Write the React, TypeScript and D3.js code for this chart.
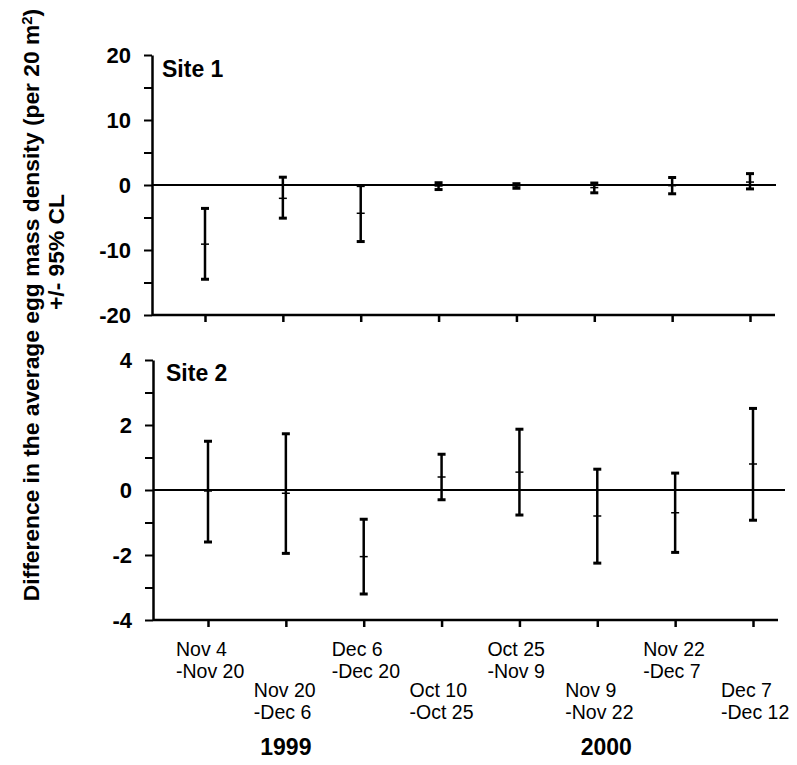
import React, { useEffect, useRef } from "react";
import * as d3 from "d3";

const startDates = ["Nov 4", "Nov 20", "Dec 6", "Oct 10", "Oct 25", "Nov 9", "Nov 22", "Dec 7"];
const endDates = ["-Nov 20", "-Dec 6", "-Dec 20", "-Oct 25", "-Nov 9", "-Nov 22", "-Dec 7", "-Dec 12"];
const categories = startDates.map((s, i) => s + " " + endDates[i]);

const site1Mean = [-9.1, -2.05, -4.35, -0.15, -0.15, -0.4, -0.1, 0.45];
const site1Lower = [-14.5, -5.1, -8.7, -0.7, -0.5, -1.2, -1.35, -0.6];
const site1Upper = [-3.6, 1.2, -0.1, 0.35, 0.2, 0.3, 1.15, 1.75];

const site2Mean = [-0.03, -0.1, -2.05, 0.4, 0.55, -0.8, -0.7, 0.8];
const site2Lower = [-1.6, -1.95, -3.2, -0.3, -0.77, -2.25, -1.92, -0.93];
const site2Upper = [1.5, 1.73, -0.9, 1.1, 1.87, 0.64, 0.52, 2.51];

const site1Ticks = [-20, -15, -10, -5, 0, 5, 10, 15, 20];
const site2Ticks = [-4, -3, -2, -1, 0, 1, 2, 3, 4];
const years = ["1999", "2000"];
const siteNames = ["Site 1", "Site 2"];

const FONT = "'Liberation Sans', Arial, Helvetica, sans-serif";

export default function App() {
  const ref = useRef<SVGSVGElement | null>(null);

  useEffect(() => {
    const svg = d3.select(ref.current);
    svg.selectAll("*").remove();

    const panels = [
      {
        name: siteNames[0],
        mean: site1Mean, lo: site1Lower, hi: site1Upper,
        ticks: site1Ticks, labelEvery: 10,
        y: d3.scaleLinear().domain([-20, 20]).range([315, 55]),
        x: d3.scalePoint<string>().domain(categories).range([205, 750]),
        axisX: 152, xEnd: 775, zeroEnd: 776,
        siteX: 162, siteY: 77,
      },
      {
        name: siteNames[1],
        mean: site2Mean, lo: site2Lower, hi: site2Upper,
        ticks: site2Ticks, labelEvery: 2,
        y: d3.scaleLinear().domain([-4, 4]).range([620, 360]),
        x: d3.scalePoint<string>().domain(categories).range([208, 753]),
        axisX: 153, xEnd: 778, zeroEnd: 785,
        siteX: 166, siteY: 381,
      },
    ];

    panels.forEach((p) => {
      const g = svg.append("g");
      const y0 = p.y.range()[0];
      const ya = d3
        .axisLeft(p.y)
        .tickValues(p.ticks)
        .tickSize(8)
        .tickSizeOuter(0)
        .tickPadding(13)
        .tickFormat((d: any) => (Math.abs(d % p.labelEvery) < 1e-9 ? String(d) : ""));
      const yg = g.append("g").attr("transform", `translate(${p.axisX},0)`).call(ya);
      yg.select(".domain").attr("stroke", "#000").attr("stroke-width", 2.5);
      yg.selectAll(".tick line").attr("stroke", "#000").attr("stroke-width", 2);
      yg.selectAll(".tick text")
        .attr("fill", "#000")
        .style("font-family", FONT)
        .style("font-size", "22px")
        .style("font-weight", "bold");

      g.append("line")
        .attr("x1", p.axisX).attr("x2", p.xEnd)
        .attr("y1", y0).attr("y2", y0)
        .attr("stroke", "#000").attr("stroke-width", 2.5);
      const xa = d3.axisBottom(p.x).tickSize(7).tickSizeOuter(0).tickFormat(() => "");
      const xg = g.append("g").attr("transform", `translate(0,${y0})`).call(xa);
      xg.select(".domain").remove();
      xg.selectAll(".tick line").attr("stroke", "#000").attr("stroke-width", 2.5);

      g.append("line")
        .attr("x1", p.axisX).attr("x2", p.zeroEnd)
        .attr("y1", p.y(0)).attr("y2", p.y(0))
        .attr("stroke", "#000").attr("stroke-width", 2);

      const bars = g.selectAll(".bar").data(categories).enter().append("g");
      bars.append("line")
        .attr("x1", (c) => p.x(c)!).attr("x2", (c) => p.x(c)!)
        .attr("y1", (_c, i) => p.y(p.lo[i])).attr("y2", (_c, i) => p.y(p.hi[i]))
        .attr("stroke", "#000").attr("stroke-width", 2.5);
      [p.lo, p.hi].forEach((arr) => {
        bars.append("line")
          .attr("x1", (c) => p.x(c)! - 4).attr("x2", (c) => p.x(c)! + 4)
          .attr("y1", (_c, i) => p.y(arr[i])).attr("y2", (_c, i) => p.y(arr[i]))
          .attr("stroke", "#000").attr("stroke-width", 3);
      });
      bars.append("line")
        .attr("x1", (c) => p.x(c)! - 4).attr("x2", (c) => p.x(c)! + 4)
        .attr("y1", (_c, i) => p.y(p.mean[i])).attr("y2", (_c, i) => p.y(p.mean[i]))
        .attr("stroke", "#000").attr("stroke-width", 1.5);

      g.append("text")
        .attr("x", p.siteX).attr("y", p.siteY)
        .style("font-family", FONT).style("font-size", "23px").style("font-weight", "bold")
        .text(p.name);
    });

    const xb = panels[1].x;
    const lab = svg.append("g").style("font-family", FONT).style("font-size", "19.5px");
    categories.forEach((c, i) => {
      const x = xb(c)! - 32;
      const yb = i % 2 === 0 ? 656 : 697;
      const t = lab.append("text").attr("x", x).attr("y", yb);
      t.append("tspan").attr("x", x).attr("y", yb).text(startDates[i]);
      t.append("tspan").attr("x", x).attr("y", yb + 21.5).text(endDates[i]);
    });

    const yl = svg.append("g").style("font-family", FONT).style("font-size", "23px").style("font-weight", "bold");
    yl.append("text").attr("x", xb(categories[1])!).attr("y", 755).attr("text-anchor", "middle").text(years[0]);
    yl.append("text").attr("x", xb(categories[5])! + 9).attr("y", 755).attr("text-anchor", "middle").text(years[1]);

    const tt = svg.append("g").style("font-family", FONT).style("font-weight", "bold").style("font-size", "22.8px");
    const t1 = tt.append("text").attr("transform", "translate(39,305) rotate(-90)").attr("text-anchor", "middle");
    t1.append("tspan").text("Difference in the average egg mass density (per 20 m");
    t1.append("tspan").attr("dy", "-0.45em").style("font-size", "15px").text("2");
    t1.append("tspan").attr("dy", "0.3em").text(")");
    tt.append("text").attr("transform", "translate(64,252) rotate(-90)").attr("text-anchor", "middle").text("+/- 95% CL");
  }, []);

  return (
    <svg
      ref={ref}
      width={797}
      height={765}
      style={{ position: "absolute", left: 0, top: 0, background: "#fff" }}
    />
  );
}
